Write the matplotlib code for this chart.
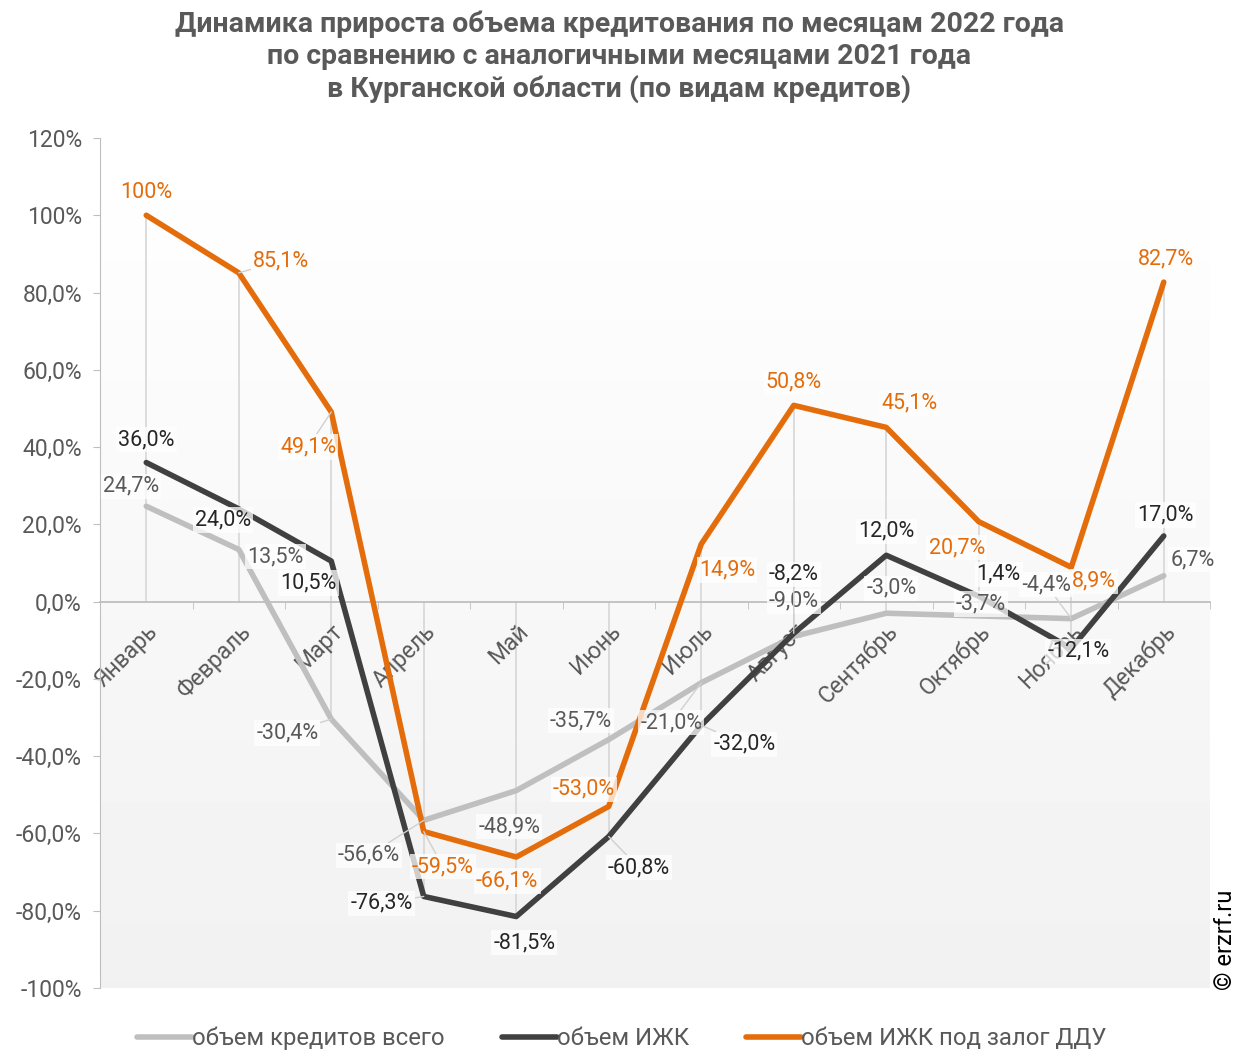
import numpy as np
import matplotlib.pyplot as plt
from matplotlib.lines import Line2D

plt.rcParams['font.family'] = ['Roboto', 'DejaVu Sans']

months = ['Январь', 'Февраль', 'Март', 'Апрель', 'Май', 'Июнь',
          'Июль', 'Август', 'Сентябрь', 'Октябрь', 'Ноябрь', 'Декабрь']

total = [24.7, 13.5, -30.4, -56.6, -48.9, -35.7, -21.0, -9.0, -3.0, -3.7, -4.4, 6.7]
izhk = [36.0, 24.0, 10.5, -76.3, -81.5, -60.8, -32.0, -8.2, 12.0, 1.4, -12.1, 17.0]
ddu = [100.0, 85.1, 49.1, -59.5, -66.1, -53.0, 14.9, 50.8, 45.1, 20.7, 8.9, 82.7]

series_names = ['объем кредитов всего', 'объем ИЖК', 'объем ИЖК под залог ДДУ']

ytick_vals = [120, 100, 80, 60, 40, 20, 0, -20, -40, -60, -80, -100]
ytick_labels = ['120%', '100%', '80,0%', '60,0%', '40,0%', '20,0%', '0,0%',
                '-20,0%', '-40,0%', '-60,0%', '-80,0%', '-100%']

title = ('Динамика прироста объема кредитования по месяцам 2022 года\n'
         'по сравнению с аналогичными месяцами 2021 года\n'
         'в Курганской области (по видам кредитов)')

# label offsets in pixels (dx, dy)
off_total = [(-15, 20), (37, -7), (-44, -14), (-55, -35), (-7, -36), (-28, 19),
             (-30, -40), (0, 35), (5, 25), (2, 12), (-25, 34), (29, 16)]
off_izhk = [(0, 23), (-16, -11), (-23, -22), (-42, -7), (8, -26), (30, -31),
            (43, -19), (0, 59), (0, 24), (20, 22), (7, -3), (2, 21)]
off_ddu = [(0, 23), (42, 12), (-23, -35), (19, -35), (-9, -24), (-25, 17),
           (26, -26), (0, 23), (23, 24), (-22, -26), (23, -14), (2, 23)]

c_total = '#bfbfbf'
c_izhk = '#404040'
c_ddu = '#e46c0a'
c_text = '#595959'


def fmt(v):
    if abs(v) >= 100:
        return '%d%%' % round(v)
    return ('%.1f%%' % v).replace('.', ',')


fig = plt.figure(figsize=(12.48, 10.53), dpi=100)
ax = fig.add_axes([100 / 1248, 65 / 1053, 1110 / 1248, 850 / 1053])

x = np.arange(len(months))
ax.set_xlim(-0.5, len(months) - 0.5)
ax.set_ylim(-100, 120)

# gradient background
grad = np.linspace(1.0, 0.945, 256).reshape(-1, 1)
ax.imshow(grad, cmap='gray', vmin=0, vmax=1, aspect='auto',
          extent=(-0.5, len(months) - 0.5, -100, 120), origin='upper', zorder=0)

# drop lines
allv = np.array([total, izhk, ddu])
for i in range(len(months)):
    top = max(0, allv[:, i].max())
    bot = min(0, allv[:, i].min())
    ax.plot([x[i], x[i]], [bot, top], color='#d9d9d9', lw=1.3, zorder=1)

ax.plot(x, total, color=c_total, lw=4, zorder=3, solid_capstyle='round')
ax.plot(x, izhk, color=c_izhk, lw=4, zorder=4, solid_capstyle='round')
ax.plot(x, ddu, color=c_ddu, lw=4, zorder=5, solid_capstyle='round')

for vals, offs, col in [(total, off_total, c_text), (izhk, off_izhk, '#262626'),
                        (ddu, off_ddu, c_ddu)]:
    for i, v in enumerate(vals):
        dx, dy = offs[i]
        far = (dx * dx + dy * dy) ** 0.5 > 38
        ax.annotate(fmt(v), (x[i], v), xytext=(dx, dy), textcoords='offset pixels',
                    ha='center', va='center', fontsize=15.5, color=col, zorder=6,
                    bbox=dict(boxstyle='square,pad=0.1', fc='white', ec='none', alpha=0.75),
                    arrowprops=dict(arrowstyle='-', color='#d0d0d0', lw=1,
                                    shrinkA=0, shrinkB=0) if far else None)

# axes styling
for s in ['top', 'right']:
    ax.spines[s].set_visible(False)
ax.spines['left'].set_color('#bfbfbf')
ax.spines['bottom'].set_position(('data', 0))
ax.spines['bottom'].set_color('#bfbfbf')
ax.spines['bottom'].set_linewidth(1.3)
ax.spines['bottom'].set_zorder(2)

ax.set_yticks(ytick_vals)
ax.set_yticklabels(ytick_labels)
ax.tick_params(axis='y', colors='#bfbfbf', labelcolor=c_text, labelsize=16.5,
               length=5, pad=8)

ax.set_xticks(x)
ax.set_xticklabels(months, rotation=45, ha='right', rotation_mode='anchor')
ax.set_xticks(np.arange(-0.5, len(months), 1), minor=True)
ax.tick_params(axis='x', which='major', length=0, labelsize=16.5,
               labelcolor=c_text, pad=13)
ax.tick_params(axis='x', which='minor', length=5, color='#bfbfbf')

fig.text(0.496, 0.99, title, ha='center', va='top', fontsize=20.5,
         fontweight='bold', color=c_text, linespacing=1.22)

handles = [Line2D([], [], color=c, lw=4, solid_capstyle='round')
           for c in [c_total, c_izhk, c_ddu]]
fig.legend(handles, series_names, loc='center', bbox_to_anchor=(0.498, 0.014),
           ncol=3, frameon=False, fontsize=17.2, labelcolor=c_text,
           handlelength=2.3, handletextpad=0.0, columnspacing=2.4)

fig.text(0.982, 0.06, '© erzrf.ru', rotation=90, ha='center', va='bottom',
         fontsize=17, color='black')

fig.savefig('out.png', dpi=100)
